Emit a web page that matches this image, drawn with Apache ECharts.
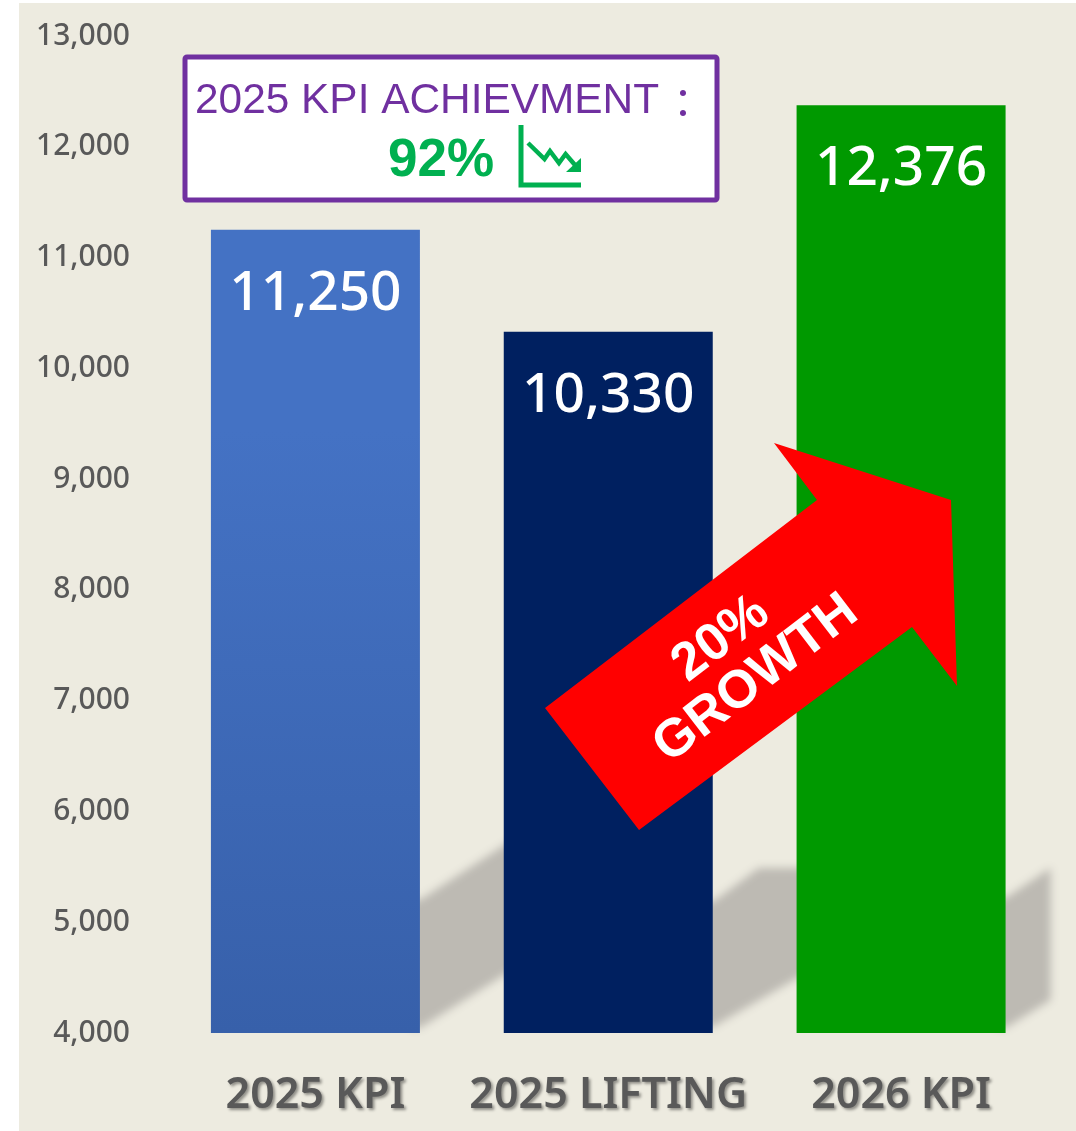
<!DOCTYPE html>
<html><head><meta charset="utf-8">
<style>html,body{margin:0;padding:0;background:#fff}#c{width:1076px;height:1131px}</style>
<script src="https://cdn.jsdelivr.net/npm/echarts@6/dist/echarts.min.js"></script>
</head><body><div id="c"></div>
<script>
const categories = ['2025 KPI', '2025 LIFTING', '2026 KPI'];
const values = [11250, 10330, 12376];
const yTicks = { min: 4000, max: 13000, interval: 1000 };
const barColors = [
  { type: 'linear', x: 0, y: 0, x2: 0, y2: 1, colorStops: [{ offset: 0, color: '#4472C4' }, { offset: 0.25, color: '#4472C4' }, { offset: 1, color: '#3760AA' }] },
  '#002060', '#009900'
];
const BAR_W = 209;
// cast-shadow outlines, pixel offsets from each bar's bottom-right corner
const shadowOutlines = [
  [[-10,-5],[0,-5],[100,-68],[100,-198],[0,-133],[-10,-133]],
  [[-10,-6],[0,-6],[95,-61],[95,-165],[46,-165],[0,-131],[-10,-131]],
  [[-10,-5],[0,-5],[45,-33],[45,-165],[0,-135],[-10,-135]]
];
const SHADOW = '#BDBAB3', OFF = 3000;

const chart = echarts.init(document.getElementById('c'), null, { renderer: 'canvas' });
const PURPLE = '#7030A0', GREEN = '#00B050', CJK = '"Noto Sans", "Noto Sans CJK SC", sans-serif';
const ang = 37.4 * Math.PI / 180;
chart.setOption({
  animation: false,
  backgroundColor: '#FFFFFF',
  grid: { left: 169, right: 28.5, top: 36, bottom: 98 },
  xAxis: {
    type: 'category', data: categories,
    axisLine: { show: false }, axisTick: { show: false },
    axisLabel: {
      interval: 0, hideOverlap: false,
      margin: 41, fontFamily: CJK, fontSize: 43, fontWeight: 600, color: '#595959',
      textShadowColor: 'rgba(0,0,0,0.4)', textShadowBlur: 3, textShadowOffsetX: 2, textShadowOffsetY: 2
    }
  },
  yAxis: {
    type: 'value', min: yTicks.min, max: yTicks.max, interval: yTicks.interval,
    axisLine: { show: false }, axisTick: { show: false }, splitLine: { show: false },
    axisLabel: { margin: 39, padding: [4, 0, 0, 0], fontFamily: CJK, fontSize: 30, fontWeight: 500, color: '#595959',
      formatter: v => v.toLocaleString('en-US') }
  },
  series: [
    {
      type: 'custom', z: 1, silent: true, clip: false,
      data: categories.map((c, i) => [i, yTicks.min]),
      encode: { x: 0, y: 1 },
      renderItem: (params, api) => {
        const p = api.coord([api.value(0), api.value(1)]);
        const R = p[0] + BAR_W / 2, B = p[1];
        return {
          type: 'polygon',
          shape: { points: shadowOutlines[params.dataIndex].map(o => [R + o[0] - OFF, B + o[1]]) },
          style: { fill: SHADOW, shadowColor: SHADOW, shadowBlur: 9, shadowOffsetX: OFF }
        };
      }
    },
    {
      type: 'bar', z: 2, barWidth: BAR_W,
      data: values.map((v, i) => ({ value: v, itemStyle: { color: barColors[i] } })),
      label: {
        show: true, position: 'insideTop', distance: 37,
        fontFamily: CJK, fontSize: 55, fontWeight: 500, color: '#FFFFFF',
        formatter: p => p.value.toLocaleString('en-US')
      }
    }
  ],
  graphic: [
    { type: 'rect', z: -100, silent: true, shape: { x: 19, y: 3, width: 1057, height: 1128 }, style: { fill: '#EDEBE0' } },
    { type: 'rect', z: 50, shape: { x: 185, y: 57, width: 532, height: 143, r: 2 }, style: { fill: '#fff', stroke: PURPLE, lineWidth: 5 } },
    { type: 'text', z: 51, x: 195, y: 101, style: { text: '2025 KPI ACHIEVMENT', font: '42.4px "Liberation Sans"', fill: PURPLE, align: 'left', verticalAlign: 'middle' } },
    { type: 'text', z: 51, x: 693, y: 100, style: { text: '：', font: '40px "Noto Sans CJK SC"', fill: PURPLE, align: 'center', verticalAlign: 'middle' } },
    { type: 'text', z: 51, x: 388, y: 161, style: { text: '92%', font: 'bold 53px "Liberation Sans"', fill: GREEN, align: 'left', verticalAlign: 'middle' } },
    { type: 'polyline', z: 51, shape: { points: [[521, 125], [521, 185], [581, 185]] }, style: { fill: 'none', stroke: GREEN, lineWidth: 5 } },
    { type: 'polyline', z: 51, shape: { points: [[528, 143], [544.5, 159], [550, 151], [559, 163], [565.6, 154], [575, 165]] }, style: { fill: 'none', stroke: GREEN, lineWidth: 4.5 } },
    { type: 'polygon', z: 51, shape: { points: [[581, 158], [581, 172], [566, 172]] }, style: { fill: GREEN } },
    { type: 'polygon', z: 60, shape: { points: [[545, 708], [639, 830], [912, 627], [957, 686], [951, 500], [774, 443], [817, 500]] }, style: { fill: '#FF0000' } },
    { type: 'text', z: 61, x: 721, y: 639, rotation: ang, style: { text: '20%', font: 'bold 53px "Liberation Sans"', fill: '#fff', align: 'center', verticalAlign: 'middle' } },
    { type: 'text', z: 61, x: 756, y: 679, rotation: ang, style: { text: 'GROWTH', font: 'bold 53px "Liberation Sans"', fill: '#fff', align: 'center', verticalAlign: 'middle' } }
  ]
});
</script></body></html>
